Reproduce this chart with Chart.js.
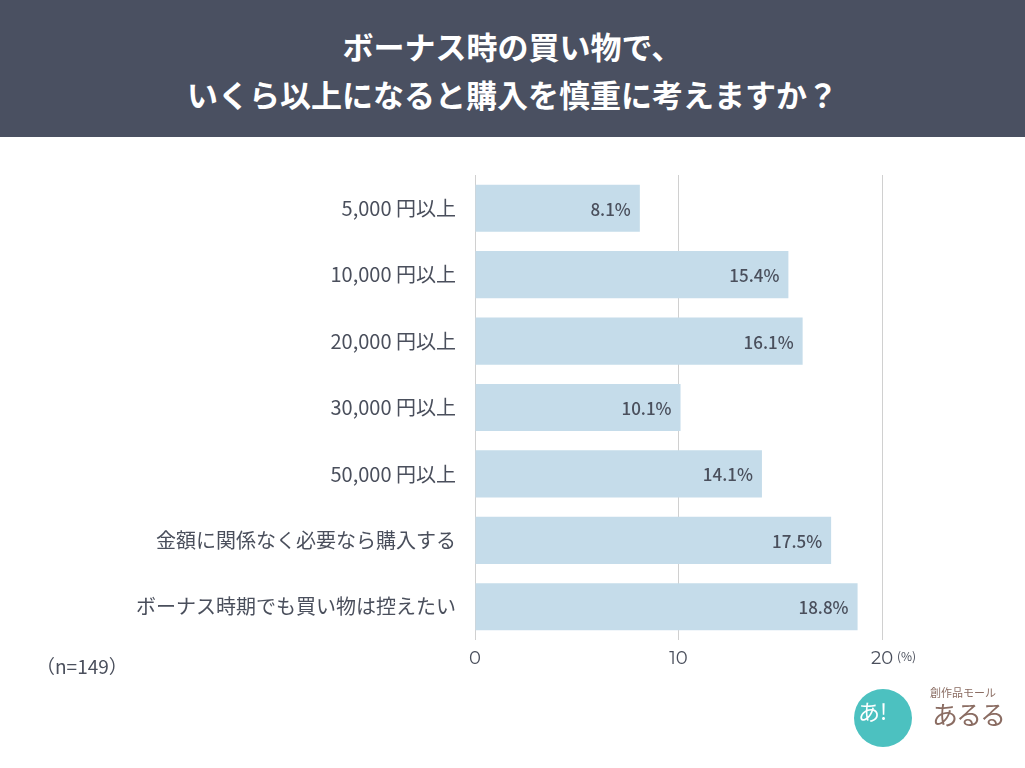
<!DOCTYPE html>
<html>
<head>
<meta charset="utf-8">
<script src="https://cdn.jsdelivr.net/npm/chart.js@4"></script>
<style>
  body { margin: 0; width: 1025px; height: 768px; background: #fff; font-family: "Noto Sans CJK JP", sans-serif; overflow: hidden; position: relative; }
  #banner { height: 137px; background: #4a5061; color: #fff; font-weight: bold; font-size: 31px; text-align: center; line-height: 48px; padding-top: 22px; box-sizing: border-box; }
  #wrap { position: absolute; left: 0; top: 137px; width: 1025px; height: 631px; }
  #note { position: absolute; left: 36px; top: 652px; font-size: 19px; color: #4a4f5c; }
  #logo { position: absolute; left: 0; top: 0; width: 1025px; height: 768px; pointer-events: none; }
  #logo .circle { position: absolute; left: 854px; top: 689px; width: 58px; height: 58px; border-radius: 50%; background: #4cc1c0; }
  #logo .mark { position: absolute; left: 858px; top: 694px; font-size: 22px; color: #fff; white-space: nowrap; }
  #logo .small { position: absolute; left: 930px; top: 684px; font-size: 11px; color: #8a6c62; white-space: nowrap; }
  #logo .big { position: absolute; left: 932px; top: 695px; font-size: 26px; letter-spacing: -2px; color: #8a6c62; white-space: nowrap; }
</style>
</head>
<body>
<div id="banner">ボーナス時の買い物で、<br>いくら以上になると購入を慎重に考えますか？</div>
<div id="wrap"><canvas id="myChart" width="1025" height="631"></canvas></div>
<div id="note">（n=149）</div>
<div id="logo"><div class="circle"></div><div class="mark">あ!</div><div class="small">創作品モール</div><div class="big">あるる</div></div>
<script>
const labels = ['5,000 円以上', '10,000 円以上', '20,000 円以上', '30,000 円以上', '50,000 円以上', '金額に関係なく必要なら購入する', 'ボーナス時期でも買い物は控えたい'];
const values = [8.1, 15.4, 16.1, 10.1, 14.1, 17.5, 18.8];
const xTicks = [0, 10, 20];

const textColor = '#4a4f5c';

// value labels inside the bar end, plus the (%) unit after the last tick
const barLabels = {
  id: 'barLabels',
  afterDatasetsDraw(chart) {
    const ctx = chart.ctx;
    const meta = chart.getDatasetMeta(0);
    ctx.save();
    ctx.font = '500 17px "Noto Sans CJK JP"';
    ctx.fillStyle = textColor;
    ctx.textAlign = 'right';
    ctx.textBaseline = 'middle';
    meta.data.forEach((bar, i) => {
      ctx.fillText(values[i].toFixed(1) + '%', bar.x - 9, bar.y + 1);
    });
    const xs = chart.scales.x;
    ctx.textAlign = 'left';
    ctx.font = '12px "Noto Sans CJK JP"';
    ctx.fillText('(%)', xs.getPixelForValue(20) + 15, chart.chartArea.bottom + 16);
    ctx.restore();
  }
};

const ctx = document.getElementById('myChart').getContext('2d');
const myChart = new Chart(ctx, {
  type: 'bar',
  data: {
    labels: labels,
    datasets: [{
      data: values,
      backgroundColor: '#c5dcea',
      categoryPercentage: 0.71,
      barPercentage: 1
    }]
  },
  options: {
    indexAxis: 'y',
    responsive: false,
    animation: false,
    layout: { padding: { top: 38, right: 143, bottom: 98, left: 0 } },
    plugins: { legend: { display: false }, tooltip: { enabled: false } },
    scales: {
      x: {
        min: 0,
        max: 20,
        afterBuildTicks: (scale) => { scale.ticks = xTicks.map(v => ({ value: v })); },
        afterFit: (scale) => { scale.height = 30; },
        grid: { color: '#d0d0d0', drawTicks: false, lineWidth: 1 },
        border: { display: false },
        ticks: { color: textColor, padding: 8, font: { family: 'Montserrat, Lato, "Noto Sans CJK JP"', size: 18 } }
      },
      y: {
        afterFit: (scale) => { scale.width = 475; },
        grid: { display: false },
        border: { display: false },
        ticks: { color: textColor, padding: 11, font: { family: '"Noto Sans CJK JP"', size: 20 } }
      }
    }
  },
  plugins: [barLabels]
});
</script>
</body>
</html>
